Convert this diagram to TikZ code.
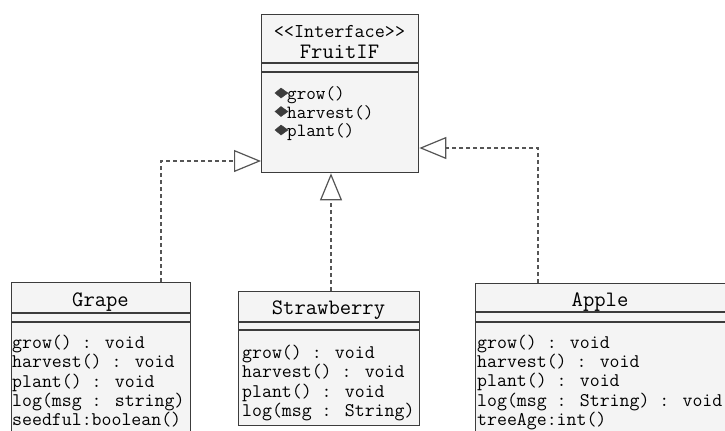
\documentclass[tikz,border=0pt]{standalone}
\usetikzlibrary{arrows.meta}
\definecolor{edgegray}{HTML}{3C3C3C}
\definecolor{dashgray}{HTML}{555555}
\definecolor{boxfill}{HTML}{F4F4F4}
\tikzset{
  classbox/.style={draw=edgegray, fill=boxfill, line width=1.3bp, rectangle,
    anchor=north west, inner sep=0pt},
  divider/.style={draw=edgegray, line width=1.3bp},
  member/.style={anchor=base west, inner sep=0pt,
    font=\fontsize{19.3bp}{19.3bp}\selectfont\ttfamily},
  ifmember/.style={anchor=base west, inner sep=0pt,
    font=\fontsize{18.6bp}{18.6bp}\selectfont\ttfamily},
  classtitle/.style={anchor=base, inner sep=0pt,
    font=\fontsize{22bp}{22bp}\selectfont\ttfamily},
  stereo/.style={anchor=base, inner sep=0pt,
    font=\fontsize{19.6bp}{19.6bp}\selectfont\ttfamily},
  realize/.style={draw=dashgray, line width=1.2bp, dash pattern=on 4bp off 3bp,
    -{Triangle[open, length=27bp, width=22bp, line width=1.2bp]}},
  opicon/.style={fill=edgegray, draw=edgegray, line width=0.4bp}
}
\begin{document}
\begin{tikzpicture}[x=1bp, y=-1bp]
\useasboundingbox (0,0) rectangle (725,430);
\fill[white] (0,0) rectangle (725,430);

% interface FruitIF
\node[classbox, minimum width=157bp, minimum height=158bp] (fruit) at (261,14) {};
\draw[divider] (fruit.west |- 0,63) -- (fruit.east |- 0,63);
\draw[divider] (fruit.west |- 0,72) -- (fruit.east |- 0,72);
\node[stereo] (fstereo) at (339.5,37) {<{}<Interface>{}>};
\node[classtitle] (ftitle) at (339.5,58) {FruitIF};
\foreach \t [count=\i] in {grow(), harvest(), plant()} {
  \pgfmathsetmacro{\yb}{99.5+18.5*(\i-1)}
  \fill[opicon] (275,\yb-6.5) -- (281,\yb-11.5) -- (288,\yb-6.5) -- (281,\yb-1.5) -- cycle;
  \node[ifmember] (fm\i) at (287,\yb) {\t};
}

% class Grape
\node[classbox, minimum width=179bp, minimum height=160bp] (grape) at (11,282) {};
\draw[divider] (grape.west |- 0,313) -- (grape.east |- 0,313);
\draw[divider] (grape.west |- 0,322) -- (grape.east |- 0,322);
\node[classtitle] (gtitle) at (100.5,306) {Grape};
\foreach \t [count=\i] in {grow() : void, harvest() : void, plant() : void,
    log(msg : string), seedful:boolean()} {
  \node[member] (gm\i) at (12,348.5+19.3*\i-19.3) {\t};
}

% class Strawberry
\node[classbox, minimum width=181bp, minimum height=134bp] (straw) at (238,291) {};
\draw[divider] (straw.west |- 0,322) -- (straw.east |- 0,322);
\draw[divider] (straw.west |- 0,330) -- (straw.east |- 0,330);
\node[classtitle] (stitle) at (328.5,314) {Strawberry};
\foreach \t [count=\i] in {grow() : void, harvest() : void, plant() : void,
    log(msg : String)} {
  \node[member] (sm\i) at (242,358.5+19.3*\i-19.3) {\t};
}

% class Apple
\node[classbox, minimum width=255bp, minimum height=160bp] (apple) at (475,283) {};
\draw[divider] (apple.west |- 0,312) -- (apple.east |- 0,312);
\draw[divider] (apple.west |- 0,322) -- (apple.east |- 0,322);
\node[classtitle] (atitle) at (600,306) {Apple};
\foreach \t [count=\i] in {grow() : void, harvest() : void, plant() : void,
    log(msg : String) : void, treeAge:int()} {
  \node[member] (am\i) at (477,348.5+19.2*\i-19.2) {\t};
}

% realization links
\coordinate (gbend) at (161,161);
\coordinate (sline) at (331,0);
\coordinate (abend) at (538,148);
\draw[realize] (grape.north -| gbend) -- (gbend) -- (fruit.west |- gbend);
\draw[realize] (straw.north -| sline) -- (fruit.south -| sline);
\draw[realize] (apple.north -| abend) -- (abend) -- (fruit.east |- abend);
\end{tikzpicture}
\end{document}
